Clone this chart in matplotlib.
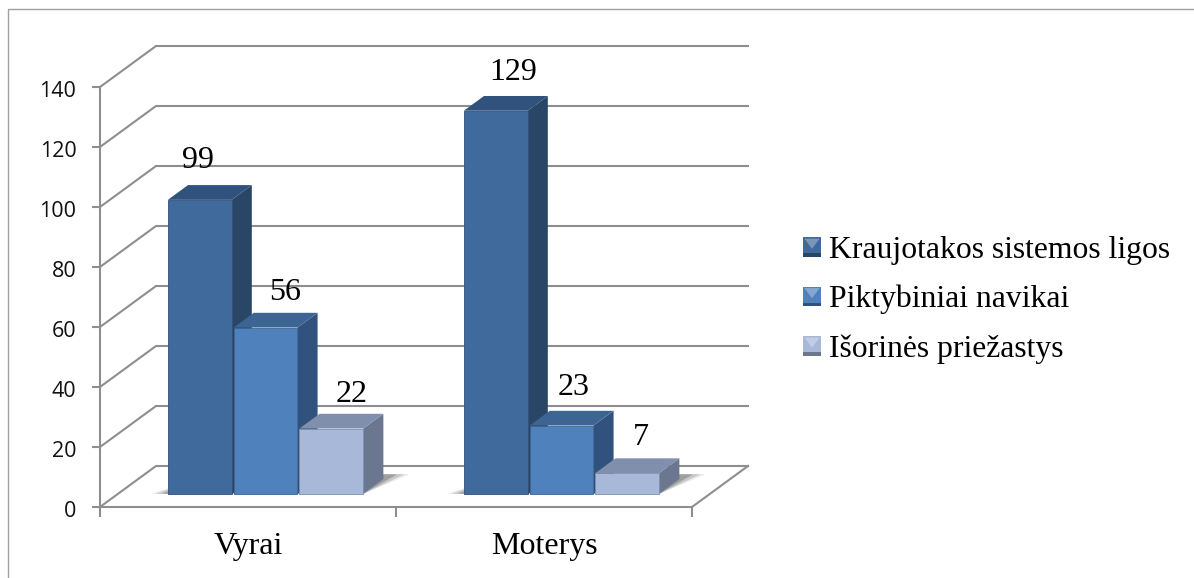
import matplotlib
matplotlib.use('Agg')
import matplotlib.pyplot as plt
from matplotlib.legend_handler import HandlerPatch
from matplotlib.lines import Line2D
from matplotlib.patches import Patch, Polygon, Rectangle
from matplotlib.transforms import ScaledTranslation

categories = ['Vyrai', 'Moterys']
series_names = ['Kraujotakos sistemos ligos', 'Piktybiniai navikai', 'Išorinės priežastys']
kraujotakos = [99, 129]
piktybiniai = [56, 23]
isorines = [22, 7]
y_ticks = [0, 20, 40, 60, 80, 100, 120, 140]

series_values = [kraujotakos, piktybiniai, isorines]
front_cols = ['#40699c', '#4f81bd', '#a8b8d9']
top_cols = ['#30527c', '#3d6594', '#808fac']
side_cols = ['#294667', '#30527c', '#6b778f']

# label offsets in pixels from the top of the bar (they were moved by hand in the original)
label_offs = [[(-2, 39), (20, 35), (20, 34)], [(17, 38), (12, 38), (14, 36)]]

GRID = '#8e8e8e'
SERIF = 'Liberation Serif'
W, H = 1194, 578

# oblique projection, depth 0 = front of floor, 1 = back wall
DX = 56 / 296
DY = 41 / 3
BAR_D0 = 0.32
BAR_D1 = 0.68
GAP = 1.5
BAR_W = 1 / (3 + GAP)


def proj(x, v, d):
    return x + d * DX, v + d * DY


def poly(ax, pts, **kw):
    p = Polygon(pts, closed=True, clip_on=False, **kw)
    ax.add_patch(p)
    return p


fig = plt.figure(figsize=(W / 100, H / 100), dpi=100)
ax = fig.add_axes([100 / W, (H - 507) / H, 592 / W, 420 / H])
ax.set_xlim(0, 2)
ax.set_ylim(0, 140)
ax.patch.set_alpha(0)

# chart frame
fig.add_artist(Line2D([8 / W, 8 / W, 1], [0, 1 - 9 / H, 1 - 9 / H], color='#a0a0a0', lw=1))

for s in ['top', 'right']:
    ax.spines[s].set_visible(False)
for s in ['left', 'bottom']:
    ax.spines[s].set_color(GRID)
    ax.spines[s].set_linewidth(1.5)

ax.set_yticks(y_ticks)
ax.set_xticks([0, 1, 2])
ax.set_xticklabels([])
ax.set_xticks([0.5, 1.5], minor=True)
ax.set_xticklabels(categories, minor=True, family=SERIF, fontsize=23)
ax.tick_params(axis='y', length=6, width=1.5, color=GRID, pad=11, labelsize=15.5, labelcolor='#111111')
ax.tick_params(axis='x', which='major', length=7, width=1.5, color=GRID)
ax.tick_params(axis='x', which='minor', length=0, pad=18)
# y labels sit 2 px lower than the tick
nudge = ScaledTranslation(0, -2 / 100, fig.dpi_scale_trans)
for t in ax.get_yticklabels():
    t.set_family('Open Sans')
    t.set_transform(t.get_transform() + nudge)

# side wall and back wall lines
for v in y_ticks:
    xs, ys = zip(proj(0, v, 0), proj(0, v, 1), proj(2, v, 1))
    ax.plot(xs, ys, color=GRID, lw=1.5, clip_on=False, zorder=1, solid_joinstyle='miter')
xs, ys = zip(proj(2, 0, 0), proj(2, 0, 1))
ax.plot(xs, ys, color=GRID, lw=1.5, clip_on=False, zorder=1)

for i in range(len(categories)):
    for j, vals in enumerate(series_values):
        x0 = i + (GAP / 2 + j) * BAR_W + 0.002
        x1 = x0 + BAR_W * 0.97
        v = vals[i] * 0.99

        # soft shadow on the floor
        for grow, a in [(0.055, 0.12), (0.04, 0.2), (0.02, 0.3)]:
            poly(ax, [proj(x0 - grow, 0, BAR_D0), proj(x1, 0, BAR_D0),
                      proj(x1 + grow * 1.2, 0, BAR_D1 + 0.12), proj(x0 + 0.05, 0, BAR_D1 + 0.12)],
                 facecolor='#444444', edgecolor='none', alpha=a, zorder=2)

        poly(ax, [proj(x1, 0, BAR_D0), proj(x1, 0, BAR_D1), proj(x1, v, BAR_D1), proj(x1, v, BAR_D0)],
             facecolor=side_cols[j], edgecolor='none', zorder=3 + i + j)
        poly(ax, [proj(x0, v, BAR_D0), proj(x1, v, BAR_D0), proj(x1, v, BAR_D1), proj(x0, v, BAR_D1)],
             facecolor=top_cols[j], edgecolor='none', joinstyle='round', zorder=3 + i + j)
        poly(ax, [proj(x0, 0, BAR_D0), proj(x1, 0, BAR_D0), proj(x1, v, BAR_D0), proj(x0, v, BAR_D0)],
             facecolor=front_cols[j], edgecolor=top_cols[j], lw=0.6, zorder=3 + i + j)

        cx, cy = proj((x0 + x1) / 2, v, BAR_D0)
        ax.annotate(str(vals[i]), (cx, cy), xytext=label_offs[i][j], textcoords='offset pixels',
                    ha='center', va='center', family=SERIF, fontsize=23, color='black',
                    annotation_clip=False, zorder=20)


class BevelHandler(HandlerPatch):
    def create_artists(self, legend, orig, xd, yd, w, h, fs, trans):
        c = orig.get_facecolor()
        base = Rectangle((-xd, -yd), w, h, facecolor=c, edgecolor='none', transform=trans)
        lo = Rectangle((-xd, -yd), w, h * 0.16, facecolor=orig.get_edgecolor(), edgecolor='none', transform=trans)
        tri = Polygon([(-xd + w * 0.08, -yd + h * 0.92), (-xd + w * 0.92, -yd + h * 0.92), (-xd + w * 0.5, -yd + h * 0.4)],
                      closed=True, facecolor='#ffffff', alpha=0.3, edgecolor='none', transform=trans)
        return [base, lo, tri]


handles = [Patch(facecolor=front_cols[k], edgecolor=side_cols[k], label=series_names[k]) for k in range(3)]
fig.legend(handles=handles, handler_map={Patch: BevelHandler()}, loc='center left',
           bbox_to_anchor=(803 / W, 1 - 300 / H), borderaxespad=0, borderpad=0, frameon=False,
           prop={'family': SERIF, 'size': 22.8}, handlelength=0.57, handleheight=0.57,
           handletextpad=0.25, labelspacing=0.63)

fig.savefig('out.png', dpi=100)
